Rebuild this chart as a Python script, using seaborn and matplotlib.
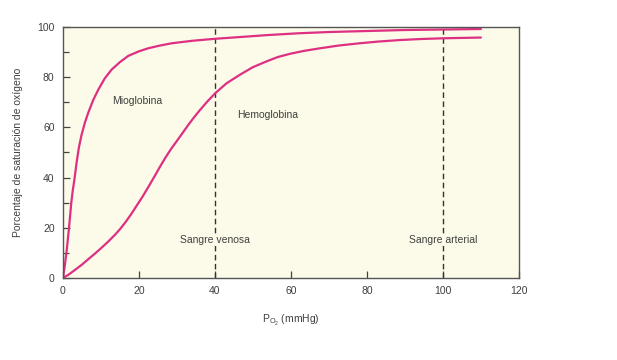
import matplotlib
matplotlib.use("Agg")
import matplotlib.pyplot as plt
import numpy as np
import pandas as pd
import seaborn as sns

# Curvas de disociación del oxígeno
mio_po2 = [0, 0.5, 1.0, 1.6, 2.2, 2.6, 3.0, 3.6, 4.2, 4.9, 5.8, 6.7, 8.0, 9.3, 11.0,
           12.8, 15.0, 17.2, 20.0, 22.4, 25.5, 28.6, 34, 40, 46.6, 54, 62, 70, 80, 90, 100, 110]
mio_sat = [0, 5, 11, 20, 30, 35, 39, 46, 52, 57, 62, 66, 71, 75, 79.5,
           83, 86, 88.5, 90.3, 91.5, 92.6, 93.5, 94.5, 95.3, 96.0, 96.8, 97.5, 98.0, 98.4, 98.8, 99.0, 99.2]

hb_po2 = [0, 1.5, 3, 5, 6.7, 8.5, 10, 12, 13.7, 15, 16.5, 18, 19.5, 21, 22.5, 24,
          25.5, 27, 28.5, 30, 31.5, 33, 34.5, 36, 38, 40, 43, 46.6, 50, 53.6, 56.5, 59.7,
          63.5, 67.6, 72.5, 78, 83, 88.7, 94, 100, 110]
hb_sat = [0, 1.3, 3, 5.3, 7.5, 9.8, 11.8, 14.6, 17.2, 19.4, 22.3, 25.5, 29, 32.5, 36.3, 40.2,
          44.2, 48, 51.5, 54.6, 57.8, 61, 64, 66.8, 70.3, 73.5, 77.5, 81, 84, 86.3, 88, 89.3,
          90.5, 91.5, 92.6, 93.5, 94.2, 94.8, 95.2, 95.5, 95.8]

ref_po2 = [40, 100]
ref_labels = ["Sangre venosa", "Sangre arterial"]

sns.set_style("ticks")
plt.rcParams["font.family"] = ["Liberation Sans", "DejaVu Sans"]

curve_color = "#de2f82"
bg_color = "#fcfbe9"
text_color = "#3f3f3f"

fig = plt.figure(figsize=(6.17, 3.6), dpi=100)
ax = fig.add_axes([0.102, 0.228, 0.739, 0.697])
ax.set_facecolor(bg_color)

df_mio = pd.DataFrame({"po2": mio_po2, "sat": mio_sat})
df_hb = pd.DataFrame({"po2": hb_po2, "sat": hb_sat})
sns.lineplot(data=df_mio, x="po2", y="sat", ax=ax, color=curve_color, lw=1.6,
             sort=False, estimator=None)
sns.lineplot(data=df_hb, x="po2", y="sat", ax=ax, color=curve_color, lw=1.6,
             sort=False, estimator=None)

for xv, lab in zip(ref_po2, ref_labels):
    ax.axvline(xv, color="#333333", ls=(0, (4, 2.5)), lw=1.0, zorder=1)
    ax.text(xv, 15, lab, ha="center", va="center", fontsize=7.5, color=text_color,
            bbox=dict(boxstyle="square,pad=0.1", fc=bg_color, ec="none"), zorder=2)

ax.text(19.5, 70.5, "Mioglobina", ha="center", va="center", fontsize=7.5, color=text_color)
ax.text(54, 65, "Hemoglobina", ha="center", va="center", fontsize=7.5, color=text_color)

ax.set_xlim(0, 120)
ax.set_ylim(0, 100)
ax.set_xticks([0, 20, 40, 60, 80, 100, 120])
ax.set_yticks([0, 20, 40, 60, 80, 100])
ax.set_yticks(np.arange(10, 100, 20), minor=True)
ax.tick_params(axis="both", which="both", direction="in", labelsize=7.5,
               labelcolor=text_color, color="#444444", width=0.9)
ax.tick_params(axis="both", which="major", length=5, pad=6)
ax.tick_params(axis="y", which="minor", length=4)
for s in ax.spines.values():
    s.set_color("#555555")
    s.set_linewidth(1.0)

ax.set_xlabel("P$_{\\mathregular{O_2}}$ (mmHg)", fontsize=7.5, color=text_color, labelpad=12)
ax.set_ylabel("Porcentaje de saturación de oxígeno", fontsize=7.5, color=text_color, labelpad=10)

fig.savefig("out.png", dpi=100, facecolor="white")
